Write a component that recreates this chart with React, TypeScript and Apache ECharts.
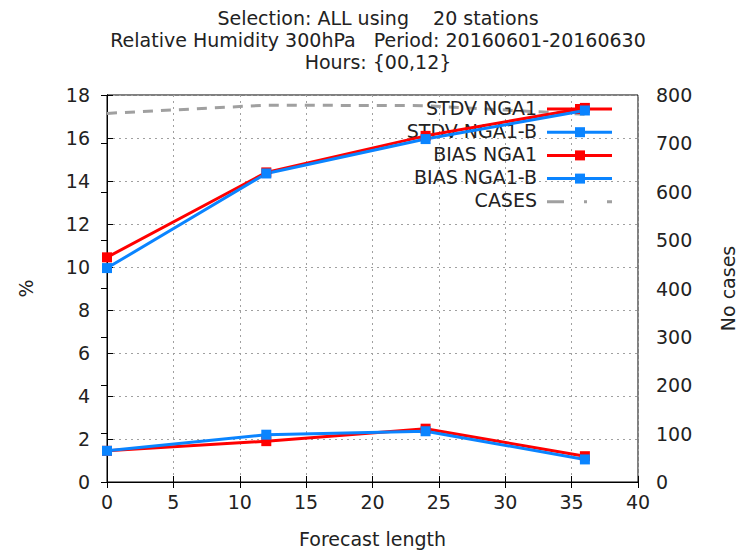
import React, { useEffect, useRef } from "react";
import * as echarts from "echarts";

const forecastHours = [0, 12, 24, 36];
const stdvNga1 = [10.45, 14.4, 16.1, 17.4];
const stdvNga1B = [9.95, 14.35, 15.95, 17.28];
const biasNga1 = [1.45, 1.9, 2.48, 1.2];
const biasNga1B = [1.45, 2.2, 2.36, 1.05];
const cases = [762, 779, 778, 760];

const titleLines = [
  "Selection: ALL using    20 stations",
  "Relative Humidity 300hPa   Period: 20160601-20160630",
  "Hours: {00,12}",
];

const legendNames = ["STDV NGA1", "STDV NGA1-B", "BIAS NGA1", "BIAS NGA1-B", "CASES"];

const RED = "#ff0000";
const BLUE = "#0a84ff";
const GRAY = "#a0a0a0";
const FONT = "DejaVu Sans";
const FS = 19;

export default function App() {
  const ref = useRef<HTMLDivElement>(null);
  useEffect(() => {
    if (!ref.current) return;
    const chart = echarts.init(ref.current, null, { renderer: "svg" });
    const pair = (ys: number[]) => forecastHours.map((x, i) => [x, ys[i]]);
    const lineSeries = (name: string, ys: number[], color: string) => ({
      name,
      type: "line",
      data: pair(ys),
      xAxisIndex: 0,
      yAxisIndex: 0,
      symbol: "rect",
      symbolSize: 10,
      clip: false,
      lineStyle: { color, width: 3 },
      itemStyle: { color },
      z: 5,
    });
    const legendColors = [RED, BLUE, RED, BLUE, GRAY];
    const legendGraphics: any[] = [];
    legendNames.forEach((n, i) => {
      const y = 109 + i * 23.2;
      legendGraphics.push({
        type: "text",
        right: 745 - 537,
        top: y - 11,
        style: { text: n, font: `${FS}px '${FONT}'`, fill: "#222", textAlign: "right" },
        z: 3,
      });
      if (i < 4) {
        legendGraphics.push({
          type: "line",
          shape: { x1: 547, y1: y, x2: 612, y2: y },
          style: { stroke: legendColors[i], lineWidth: 3 },
          z: 4,
        });
        legendGraphics.push({
          type: "rect",
          shape: { x: 575, y: y - 5, width: 10, height: 10 },
          style: { fill: legendColors[i] },
          z: 4,
        });
      } else {
        legendGraphics.push({
          type: "line",
          shape: { x1: 547, y1: y, x2: 612, y2: y },
          style: { stroke: GRAY, lineWidth: 3, lineDash: [17, 20, 3, 20] },
          z: 4,
        });
      }
    });
    chart.setOption({
      animation: false,
      backgroundColor: "#ffffff",
      textStyle: { fontFamily: FONT },
      title: {
        text: titleLines.join("\n"),
        left: 373,
        top: 2,
        textAlign: "center",
        textStyle: { fontSize: FS, fontWeight: "normal", color: "#222", lineHeight: 22, fontFamily: FONT },
      },
      grid: { left: 107, right: 107, top: 95, bottom: 69, show: true, borderColor: "#000", borderWidth: 1, backgroundColor: "transparent" },
      xAxis: [
        {
          type: "value",
          min: 0,
          max: 40,
          interval: 5,
          name: "Forecast length",
          nameLocation: "middle",
          nameGap: 47,
          nameTextStyle: { fontSize: FS, color: "#222", fontFamily: FONT },
          axisLine: { show: true, lineStyle: { color: "#000", width: 1 } },
          axisTick: { inside: true, length: 6, lineStyle: { color: "#000" } },
          axisLabel: { fontSize: FS, color: "#222", margin: 10, fontFamily: FONT },
          splitLine: { show: true, lineStyle: { color: "#a0a0a0", type: [2, 4], width: 1 } },
        },
        {
          type: "value",
          position: "top",
          min: 0,
          max: 40,
          interval: 5,
          axisLine: { show: true, lineStyle: { color: "#000" } },
          axisTick: { inside: true, length: 6, lineStyle: { color: "#000" } },
          axisLabel: { show: false },
          splitLine: { show: false },
        },
      ],
      yAxis: [
        {
          type: "value",
          min: 0,
          max: 18,
          interval: 2,
          name: "%",
          nameLocation: "middle",
          nameGap: 72,
          nameRotate: 90,
          nameTextStyle: { fontSize: FS, color: "#222", fontFamily: FONT },
          axisLine: { show: true, lineStyle: { color: "#000" } },
          axisTick: { inside: true, length: 6, lineStyle: { color: "#000" } },
          axisLabel: { fontSize: FS, color: "#222", margin: 17, fontFamily: FONT },
          splitLine: { show: true, lineStyle: { color: "#a0a0a0", type: [2, 4], width: 1 } },
        },
        {
          type: "value",
          min: 0,
          max: 800,
          interval: 100,
          position: "right",
          name: "No cases",
          nameLocation: "middle",
          nameGap: 80,
          nameRotate: 90,
          nameTextStyle: { fontSize: FS, color: "#222", fontFamily: FONT },
          axisLine: { show: true, lineStyle: { color: "#000" } },
          axisTick: { inside: true, length: 6, lineStyle: { color: "#000" } },
          axisLabel: { fontSize: FS, color: "#222", margin: 18, fontFamily: FONT },
          splitLine: { show: false },
        },
      ],
      graphic: legendGraphics,
      series: [
        {
          name: "CASES",
          type: "line",
          data: forecastHours.map((x, i) => [x, cases[i]]),
          xAxisIndex: 0,
          yAxisIndex: 1,
          symbol: "none",
          lineStyle: { color: GRAY, width: 3, type: [10, 8] },
          z: 2,
        },
        lineSeries("STDV NGA1", stdvNga1, RED),
        lineSeries("STDV NGA1-B", stdvNga1B, BLUE),
        lineSeries("BIAS NGA1", biasNga1, RED),
        lineSeries("BIAS NGA1-B", biasNga1B, BLUE),
      ],
    });
    return () => chart.dispose();
  }, []);
  return <div ref={ref} style={{ width: 745, height: 553, position: "absolute", left: 0, top: 0 }} />;
}
